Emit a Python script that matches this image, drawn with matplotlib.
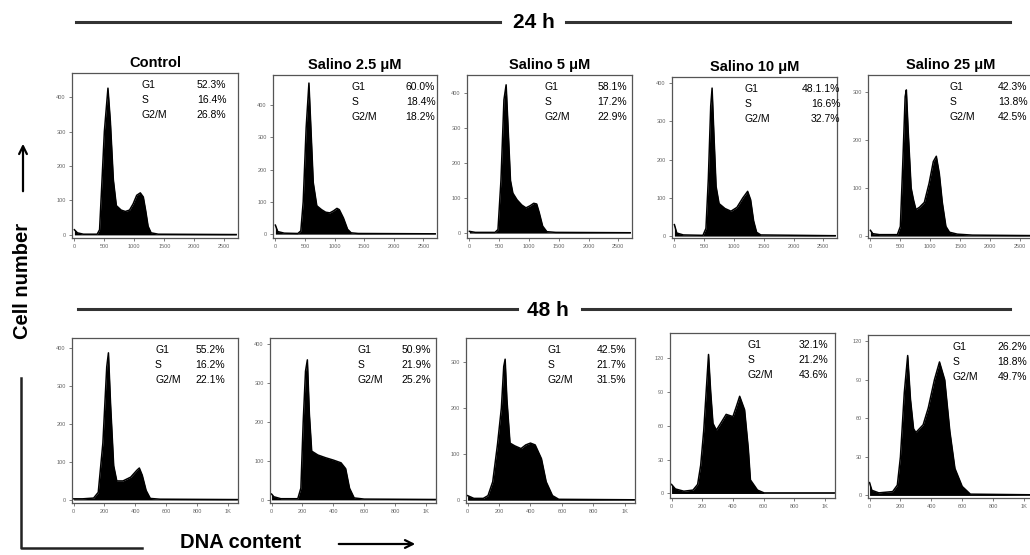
import matplotlib
matplotlib.use("Agg")
import matplotlib.pyplot as plt

plt.rcParams['font.family'] = ['Liberation Sans', 'DejaVu Sans']

# panel titles and phase percentages
titles = ['Control', 'Salino 2.5 μM', 'Salino 5 μM', 'Salino 10 μM', 'Salino 25 μM']
phases = ['G1', 'S', 'G2/M']
pct_24h = [['52.3%', '16.4%', '26.8%'],
           ['60.0%', '18.4%', '18.2%'],
           ['58.1%', '17.2%', '22.9%'],
           ['48.1.1%', '16.6%', '32.7%'],
           ['42.3%', '13.8%', '42.5%']]
pct_48h = [['55.2%', '16.2%', '22.1%'],
           ['50.9%', '21.9%', '25.2%'],
           ['42.5%', '21.7%', '31.5%'],
           ['32.1%', '21.2%', '43.6%'],
           ['26.2%', '18.8%', '49.7%']]

# histogram outlines (DNA channel, cell count)
ctrl_24_x = [0, 50, 150, 380, 420, 450, 500, 560, 600, 650, 700, 780, 850, 920, 980, 1040, 1100, 1150, 1190, 1230, 1280, 1400, 2700]
ctrl_24_y = [15, 6, 2, 2, 15, 120, 300, 426, 330, 160, 85, 72, 68, 72, 90, 115, 122, 110, 70, 25, 6, 2, 1]
s25_24_x = [0, 40, 150, 380, 430, 470, 520, 567, 600, 640, 700, 780, 850, 920, 980, 1040, 1080, 1150, 1220, 1280, 1400, 2700]
s25_24_y = [28, 8, 3, 2, 10, 100, 330, 469, 330, 160, 88, 76, 68, 66, 72, 80, 76, 50, 15, 4, 2, 1]
s5_24_x = [0, 100, 430, 480, 530, 580, 617, 650, 690, 730, 800, 880, 950, 1020, 1080, 1130, 1170, 1230, 1300, 1450, 2700]
s5_24_y = [5, 2, 2, 10, 150, 380, 423, 300, 150, 114, 95, 80, 72, 78, 85, 83, 60, 20, 4, 2, 1]
s10_24_x = [0, 40, 150, 480, 530, 570, 610, 633, 660, 700, 750, 850, 950, 1050, 1150, 1230, 1280, 1330, 1380, 1450, 2700]
s10_24_y = [30, 8, 3, 2, 20, 150, 340, 387, 280, 130, 85, 72, 65, 75, 100, 117, 95, 40, 10, 3, 1]
s25u_24_x = [0, 40, 150, 450, 500, 540, 580, 600, 630, 680, 720, 760, 820, 900, 980, 1050, 1100, 1150, 1200, 1260, 1320, 1450, 1700, 2700]
s25u_24_y = [12, 5, 3, 3, 20, 150, 290, 304, 220, 100, 75, 55, 60, 70, 110, 155, 166, 130, 70, 20, 8, 4, 2, 1]

ctrl_48_x = [0, 60, 130, 160, 190, 215, 226, 240, 260, 280, 320, 370, 410, 426, 445, 470, 497, 560, 1060]
ctrl_48_y = [3, 3, 5, 20, 150, 350, 387, 250, 90, 50, 50, 60, 78, 84, 65, 25, 4, 2, 1]
s25_48_x = [0, 15, 60, 170, 190, 205, 220, 232, 245, 260, 300, 350, 400, 450, 480, 505, 535, 600, 1060]
s25_48_y = [15, 8, 3, 3, 30, 200, 330, 359, 220, 125, 115, 108, 102, 95, 80, 30, 5, 2, 1]
s5_48_x = [0, 40, 100, 130, 160, 190, 215, 230, 239, 250, 270, 300, 340, 370, 400, 430, 470, 500, 540, 580, 1060]
s5_48_y = [10, 4, 4, 10, 40, 120, 200, 290, 306, 220, 124, 118, 112, 120, 124, 120, 90, 40, 10, 2, 1]
s10_48_x = [0, 25, 80, 140, 170, 190, 210, 228, 241, 255, 270, 292, 320, 356, 400, 425, 444, 476, 500, 514, 560, 603, 1060]
s10_48_y = [8, 4, 2, 3, 8, 25, 56, 95, 123, 90, 62, 56, 62, 70, 68, 78, 86, 74, 40, 12, 3, 0.5, 0.5]
s25u_48_x = [0, 15, 60, 150, 180, 200, 225, 247, 265, 285, 300, 347, 380, 420, 453, 487, 520, 553, 600, 653, 1060]
s25u_48_y = [10, 4, 2, 3, 8, 30, 80, 109, 75, 52, 49, 55, 68, 90, 104, 90, 50, 21, 7, 1, 0.5]

hist_24h = [(ctrl_24_x, ctrl_24_y), (s25_24_x, s25_24_y), (s5_24_x, s5_24_y),
            (s10_24_x, s10_24_y), (s25u_24_x, s25u_24_y)]
hist_48h = [(ctrl_48_x, ctrl_48_y), (s25_48_x, s25_48_y), (s5_48_x, s5_48_y),
            (s10_48_x, s10_48_y), (s25u_48_x, s25u_48_y)]

# axis ranges / ticks per panel
ylim_24h = [(-9, 470), (-12, 494), (-14, 451), (-5, 416), (-4, 335)]
yticks_24h = [[0, 100, 200, 300, 400]] * 4 + [[0, 100, 200, 300]]
ylim_48h = [(-8, 426), (-8, 415), (-6, 352), (-4, 142), (-2, 125)]
yticks_48h = [[0, 100, 200, 300, 400], [0, 100, 200, 300, 400], [0, 100, 200, 300],
              [0, 30, 60, 90, 120], [0, 30, 60, 90, 120]]
xticks_24h = [0, 500, 1000, 1500, 2000, 2500]
xticks_48h = [0, 200, 400, 600, 800, 1000]
xlabels_48h = ['0', '200', '400', '600', '800', '1K']

W, H = 1030, 555
fig = plt.figure(figsize=(W / 100, H / 100), dpi=100)

# overlay in pixel coordinates for the group lines and axis captions
ov = fig.add_axes([0, 0, 1, 1])
ov.set_xlim(0, W)
ov.set_ylim(H, 0)
ov.axis('off')
ov.plot([76, 500], [22, 22], color='#333333', lw=2.2)
ov.plot([566, 1010], [22, 22], color='#333333', lw=2.2)
ov.text(534, 22, '24 h', ha='center', va='center', fontsize=15, fontweight='bold')
ov.plot([78, 517], [309, 309], color='#333333', lw=2.2)
ov.plot([582, 1010], [309, 309], color='#333333', lw=2.2)
ov.text(548, 311, '48 h', ha='center', va='center', fontsize=15, fontweight='bold')
ov.text(23, 281, 'Cell number', rotation=90, ha='center', va='center',
        fontsize=14.5, fontweight='bold')
ov.annotate('', xy=(23, 141), xytext=(23, 194),
            arrowprops=dict(arrowstyle='->', lw=1.6, color='black', mutation_scale=14))
ov.plot([21, 21, 142], [378, 548, 548], color='#222222', lw=1.8)
ov.text(241, 542, 'DNA content', ha='center', va='center', fontsize=14.5, fontweight='bold')
ov.annotate('', xy=(418, 544), xytext=(336, 544),
            arrowprops=dict(arrowstyle='->', lw=1.6, color='black', mutation_scale=14))

# frame boxes in pixels: left, top, right, bottom
boxes_24h = [(72, 73, 238, 238), (273, 75, 437, 238), (467, 75, 632, 238),
             (672, 77, 837, 238), (868, 75, 1034, 238)]
boxes_48h = [(72, 338, 238, 503), (270, 338, 436, 503), (466, 338, 635, 503),
             (670, 333, 835, 498), (868, 335, 1034, 498)]
label_x_24h = [(0.42, 0.93), (0.48, 0.99), (0.47, 0.97), (0.44, 1.02), (0.49, 0.96)]
label_x_48h = [(0.50, 0.92), (0.53, 0.97), (0.48, 0.95), (0.47, 0.96), (0.51, 0.96)]


def draw_panel(box, data, ylim, yticks, xlim, xticks, xlabels, pcts, lab_x, title=None):
    l, t, r, b = box
    ax = fig.add_axes([l / W, 1 - b / H, (r - l) / W, (b - t) / H])
    x, y = data
    ax.fill_between(x, 0, y, color='black', lw=0)
    ax.plot(x, y, color='black', lw=1.1)
    ax.set_xlim(*xlim)
    ax.set_ylim(*ylim)
    ax.set_xticks(xticks)
    ax.set_xticklabels(xlabels)
    ax.set_yticks(yticks)
    ax.tick_params(direction='out', length=2.5, width=0.6, labelsize=4,
                   labelcolor='#666666', color='#666666', pad=2)
    for sp in ax.spines.values():
        sp.set_color('#555555')
        sp.set_linewidth(0.9)
    lx, rx = lab_x
    for i, (ph, val) in enumerate(zip(phases, pcts)):
        yy = 1 - (12 + 15 * i) / (b - t)
        ax.text(lx, yy, ph, transform=ax.transAxes, ha='left', va='center', fontsize=7.5)
        ax.text(rx, yy, val, transform=ax.transAxes, ha='right', va='center', fontsize=7.5,
                clip_on=False)
    if title:
        ax.set_title(title, fontsize=10.5, fontweight='bold', pad=4)
    return ax


for i in range(5):
    draw_panel(boxes_24h[i], hist_24h[i], ylim_24h[i], yticks_24h[i], (-40, 2730),
               xticks_24h, [str(v) for v in xticks_24h], pct_24h[i], label_x_24h[i], titles[i])
    draw_panel(boxes_48h[i], hist_48h[i], ylim_48h[i], yticks_48h[i], (-10, 1065),
               xticks_48h, xlabels_48h, pct_48h[i], label_x_48h[i])

fig.savefig('out.png', dpi=100)
